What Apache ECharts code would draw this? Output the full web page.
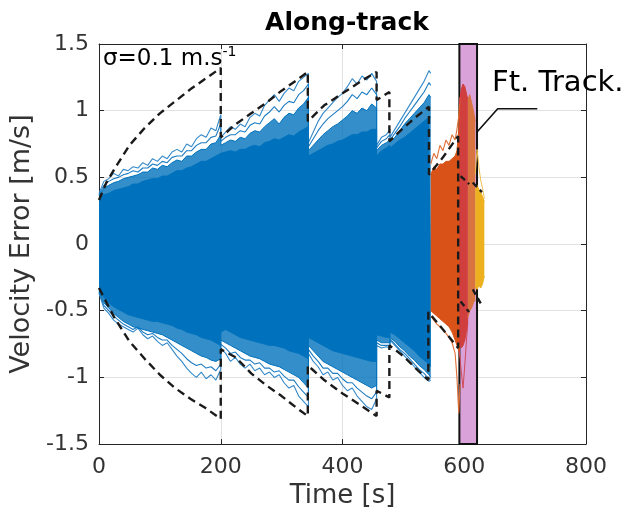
<!DOCTYPE html>
<html><head><meta charset="utf-8">
<script src="https://cdn.jsdelivr.net/npm/echarts@6/dist/echarts.min.js"></script>
<style>html,body{margin:0;padding:0;background:#fff}#c{width:623px;height:514px}</style>
</head><body><div id="c"></div>
<script>
const titleText = 'Along-track';
const xName = 'Time [s]';
const yName = 'Velocity Error [m/s]';
const sigmaLabel = 'σ=0.1 m.s';
const sigmaExp = '-1';
const boxLabel = 'Ft. Track.';

// blue Monte-Carlo band (repeated times = filter resets)
const blueT = [
  0,8,16,24,32,40,48,56,64,72,80,88,96,104,112,120,128,136,144,152,160,168,176,184,192,200,
  200,208,216,224,232,240,248,256,264,272,280,288,296,304,312,320,328,336,344,
  344,352,360,368,376,384,392,400,408,416,424,432,440,448,456,
  456,464,472,478,
  478,486,494,502,510,518,526,534,542,545];
const blueEdgeHi = [
  0.38,0.47,0.49,0.53,0.51,0.56,0.55,0.58,0.57,0.61,0.59,0.64,0.62,0.66,0.64,0.69,0.71,0.69,0.75,0.73,0.79,0.82,0.80,0.87,0.85,0.97,
  0.80,0.84,0.88,0.86,0.90,0.88,0.95,0.98,0.96,1.04,1.08,1.12,1.07,1.13,1.17,1.15,1.22,1.25,1.28,
  0.76,0.84,0.92,0.98,1.02,1.06,1.10,1.13,1.18,1.24,1.20,1.26,1.23,1.28,1.22,
  0.74,0.80,0.82,0.86,
  0.80,0.86,0.92,0.98,1.04,1.10,1.16,1.22,1.30,1.28];
const blueEdgeHi2 = [
  0.37,0.44,0.47,0.49,0.50,0.52,0.53,0.55,0.54,0.57,0.57,0.60,0.59,0.62,0.61,0.65,0.66,0.66,0.70,0.70,0.74,0.76,0.76,0.80,0.81,0.90,
  0.77,0.80,0.82,0.82,0.85,0.84,0.89,0.91,0.90,0.96,0.99,1.03,0.99,1.04,1.07,1.06,1.12,1.15,1.20,
  0.73,0.79,0.85,0.90,0.94,0.97,1.00,1.03,1.07,1.12,1.09,1.14,1.12,1.17,1.12,
  0.72,0.77,0.79,0.82,
  0.78,0.83,0.88,0.94,0.99,1.04,1.09,1.14,1.21,1.19];
const blueMidHi = [
  0.36,0.42,0.44,0.46,0.47,0.49,0.50,0.51,0.52,0.54,0.54,0.57,0.56,0.59,0.58,0.61,0.63,0.62,0.66,0.66,0.69,0.71,0.71,0.75,0.76,0.82,
  0.74,0.76,0.78,0.77,0.80,0.79,0.83,0.85,0.84,0.88,0.91,0.94,0.90,0.95,0.98,0.97,1.02,1.05,1.10,
  0.70,0.74,0.78,0.82,0.85,0.88,0.90,0.93,0.96,1.00,0.98,1.02,1.00,1.05,1.02,
  0.70,0.74,0.76,0.78,
  0.76,0.80,0.85,0.90,0.94,0.98,1.02,1.06,1.12,1.10];
const blueFillHi = [
  0.34,0.37,0.38,0.40,0.41,0.42,0.43,0.45,0.45,0.47,0.48,0.49,0.49,0.51,0.51,0.53,0.55,0.55,0.57,0.58,0.60,0.62,0.62,0.64,0.66,0.68,
  0.68,0.69,0.70,0.69,0.71,0.71,0.73,0.74,0.73,0.76,0.77,0.79,0.78,0.80,0.82,0.81,0.84,0.86,0.88,
  0.66,0.68,0.70,0.72,0.74,0.75,0.77,0.78,0.80,0.82,0.82,0.84,0.84,0.86,0.86,
  0.66,0.70,0.72,0.74,
  0.72,0.75,0.78,0.80,0.83,0.86,0.89,0.92,0.95,0.95];
const blueFillLo = [
  -0.33,-0.40,-0.44,-0.47,-0.49,-0.51,-0.53,-0.54,-0.55,-0.56,-0.57,-0.58,-0.58,-0.59,-0.60,-0.61,-0.63,-0.64,-0.66,-0.67,-0.68,-0.70,-0.71,-0.72,-0.74,-0.76,
  -0.66,-0.64,-0.66,-0.68,-0.70,-0.71,-0.72,-0.73,-0.74,-0.75,-0.76,-0.76,-0.77,-0.78,-0.80,-0.81,-0.82,-0.84,-0.86,
  -0.70,-0.72,-0.74,-0.76,-0.78,-0.80,-0.81,-0.82,-0.83,-0.84,-0.85,-0.86,-0.87,-0.88,-0.88,
  -0.68,-0.69,-0.70,-0.70,
  -0.66,-0.68,-0.71,-0.74,-0.77,-0.80,-0.84,-0.87,-0.90,-0.92];
const blueMidLo = [
  -0.35,-0.44,-0.48,-0.52,-0.55,-0.58,-0.60,-0.62,-0.63,-0.64,-0.65,-0.66,-0.67,-0.68,-0.70,-0.72,-0.74,-0.76,-0.78,-0.80,-0.82,-0.84,-0.85,-0.87,-0.88,-0.86,
  -0.72,-0.74,-0.76,-0.78,-0.80,-0.82,-0.84,-0.85,-0.86,-0.88,-0.90,-0.91,-0.92,-0.94,-0.96,-0.98,-1.00,-1.04,-1.08,
  -0.76,-0.80,-0.84,-0.88,-0.90,-0.92,-0.94,-0.96,-0.98,-1.00,-1.02,-1.04,-1.06,-1.08,-1.06,
  -0.72,-0.74,-0.74,-0.74,
  -0.70,-0.73,-0.77,-0.80,-0.84,-0.87,-0.91,-0.94,-0.98,-1.00];
const blueEdgeLo2 = [
  -0.36,-0.46,-0.50,-0.54,-0.57,-0.60,-0.62,-0.64,-0.62,-0.66,-0.68,-0.67,-0.70,-0.72,-0.72,-0.76,-0.79,-0.82,-0.86,-0.89,-0.91,-0.90,-0.93,-0.92,-0.95,-0.90,
  -0.75,-0.78,-0.82,-0.81,-0.85,-0.87,-0.87,-0.90,-0.89,-0.93,-0.93,-0.96,-0.95,-0.99,-1.02,-1.02,-1.07,-1.11,-1.15,
  -0.79,-0.84,-0.88,-0.93,-0.93,-0.97,-0.97,-1.01,-1.04,-1.04,-1.08,-1.11,-1.14,-1.16,-1.11,
  -0.74,-0.76,-0.76,-0.76,
  -0.71,-0.75,-0.79,-0.82,-0.86,-0.90,-0.94,-0.97,-1.01,-1.01];
const blueEdgeLo = [
  -0.37,-0.48,-0.52,-0.57,-0.60,-0.62,-0.64,-0.66,-0.63,-0.68,-0.71,-0.69,-0.73,-0.76,-0.74,-0.79,-0.84,-0.88,-0.93,-0.97,-1.00,-0.96,-1.01,-0.98,-1.02,-0.94,
  -0.78,-0.82,-0.88,-0.85,-0.90,-0.93,-0.90,-0.95,-0.93,-0.98,-0.96,-1.00,-0.98,-1.04,-1.08,-1.06,-1.14,-1.18,-1.22,
  -0.82,-0.88,-0.92,-0.98,-0.96,-1.02,-1.00,-1.06,-1.10,-1.08,-1.14,-1.18,-1.22,-1.24,-1.16,
  -0.76,-0.78,-0.77,-0.78,
  -0.72,-0.76,-0.80,-0.84,-0.88,-0.92,-0.96,-1.00,-1.03,-1.02];

// orange band
const orangeT      = [545,550,555,560,565,570,575,580,585,588,591,593];
const orangeEdgeHi = [0.60,0.68,0.64,0.74,0.70,0.78,0.74,0.82,0.78,0.86,0.96,1.10];
const orangeFillHi = [0.52,0.58,0.56,0.60,0.60,0.62,0.62,0.64,0.66,0.70,0.85,1.05];
const orangeFillLo = [-0.50,-0.52,-0.54,-0.56,-0.58,-0.60,-0.62,-0.66,-0.72,-0.76,-0.80,-0.85];
const orangeEdgeLo = [-0.54,-0.57,-0.60,-0.62,-0.64,-0.67,-0.70,-0.74,-0.82,-1.00,-1.27,-1.05];

// red band inside the feature-tracking window
const redT   = [592,595,598,601,604,606];
const redHi  = [1.05,1.16,1.20,1.18,1.12,1.08];
const redLo  = [-0.72,-0.78,-0.76,-0.72,-0.64,-0.55];
const redEdgeLo = [-0.80,-0.95,-1.08,-0.90,-0.70,-0.58];

// light-orange band (right part of window)
const lightT  = [606,609,612,615,618];
const lightHi = [1.08,1.12,1.06,1.00,0.92];
const lightLo = [-0.55,-0.50,-0.48,-0.44,-0.42];

// yellow band
const yellowT  = [618,621,624,627,630,633];
const yellowEdgeHi = [0.52,0.71,0.58,0.48,0.42,0.34];
const yellowHi = [0.40,0.44,0.41,0.39,0.40,0.32];
const yellowLo = [-0.32,-0.34,-0.31,-0.33,-0.30,-0.24];

// 3-sigma bounds (dashed)
const boundHiT = [0,12,25,50,75,100,125,150,175,200,200,225,250,275,300,325,343,343,370,400,430,456,456,477,477,500,520,542,542,565,590];
const boundHi  = [0.33,0.46,0.56,0.74,0.87,0.98,1.07,1.16,1.24,1.32,0.80,0.90,0.98,1.06,1.15,1.23,1.29,0.92,1.04,1.13,1.22,1.29,1.08,1.14,0.77,0.87,0.95,1.03,0.52,0.65,0.81];
const boundLoT = [0,25,50,75,100,125,150,175,200,200,225,250,275,300,325,343,343,370,400,430,456,456,477,477,500,520,541,541,565,590,590];
const boundLo  = [-0.33,-0.55,-0.73,-0.86,-0.98,-1.08,-1.16,-1.23,-1.31,-0.79,-0.85,-0.97,-1.06,-1.14,-1.23,-1.29,-0.91,-1.02,-1.12,-1.21,-1.29,-1.10,-1.15,-0.76,-0.84,-0.93,-1.02,-0.51,-0.64,-0.78,0.81];
const tailT  = [594,608,614,629];
const tailHi = [0.51,0.45,0.46,0.39];
const tailLo = [-0.43,-0.51,-0.34,-0.46];

// feature tracking window and its callout
const boxRange = [592, 621];
const calloutT = [621, 655, 720];
const calloutV = [0.84, 1.015, 1.015];

const xMin = 0, xMax = 800, xStep = 200;
const yMin = -1.5, yMax = 1.5, yStep = 0.5;

const FONT = 'DejaVu Sans';
const BLUE = '#0072BD', ORANGE = '#D95319', YELLOW = '#EDB120';
const zip = (t, v) => t.map((x, i) => [x, v[i]]);

function area(t, v, color, opacity, z) {
  return {type:'line', data: zip(t, v), showSymbol:false, symbol:'none', silent:true, z: z,
    lineStyle:{color: color, width: 1, opacity: Math.min(1, opacity + 0.2)},
    areaStyle:{color: color, opacity: opacity, origin: 'auto'}, animation:false};
}
function line(t, v, color, width, z, type) {
  return {type:'line', data: zip(t, v), showSymbol:false, symbol:'none', silent:true, z: z,
    lineStyle:{color: color, width: width, type: type || 'solid'}, animation:false};
}

const series = [];
series.push({type:'line', data: [], z: 1, silent:true, animation:false,
  markArea:{silent:true, itemStyle:{color:'#D9A3D9', opacity:1}, data:[[{xAxis: boxRange[0]}, {xAxis: boxRange[1]}]]}});
// blue
series.push(line(blueT, blueEdgeHi, '#3489c9', 1.1, 2));
series.push(line(blueT, blueEdgeLo, '#3489c9', 1.1, 2));
series.push(line(blueT, blueEdgeHi2, '#1c7cc2', 1.1, 2));
series.push(line(blueT, blueEdgeLo2, '#1c7cc2', 1.1, 2));
series.push(area(blueT, blueMidHi, BLUE, 0.8, 2));
series.push(area(blueT, blueMidLo, BLUE, 0.8, 2));
series.push(area(blueT, blueFillHi, BLUE, 1, 2));
series.push(area(blueT, blueFillLo, BLUE, 1, 2));
// orange
series.push(line(orangeT, orangeEdgeHi, '#E0703A', 1.1, 2));
series.push(line(orangeT, orangeEdgeLo, '#E0703A', 1.1, 2));
series.push(area(orangeT, orangeFillHi, ORANGE, 1, 2));
series.push(area(orangeT, orangeFillLo, ORANGE, 1, 2));
// red & light orange inside window
series.push(line(redT, redEdgeLo, '#D04A5A', 1, 2));
series.push(area(redT, redHi, '#D03E3E', 1, 2));
series.push(area(redT, redLo, '#D03E3E', 1, 2));
series.push(area(lightT, lightHi, '#D9733F', 1, 2));
series.push(area(lightT, lightLo, '#D9733F', 1, 2));
// yellow
series.push(line(yellowT, yellowEdgeHi, '#F0C050', 1, 2));
series.push(area(yellowT, yellowHi, YELLOW, 1, 2));
series.push(area(yellowT, yellowLo, YELLOW, 1, 2));
// dashed bounds
series.push(line(boundHiT, boundHi, '#1a1a1a', 2.4, 3, [8,5]));
series.push(line(boundLoT, boundLo, '#1a1a1a', 2.4, 3, [8,5]));
for (let i = 0; i < tailT.length; i += 2) {
  series.push(line(tailT.slice(i, i+2), tailHi.slice(i, i+2), '#1a1a1a', 2.4, 3, [6,4]));
  series.push(line(tailT.slice(i, i+2), tailLo.slice(i, i+2), '#1a1a1a', 2.4, 3, [6,4]));
}
series.push({type:'line', data: [], z: 4, silent:true, animation:false,
  markArea:{silent:true, itemStyle:{color:'rgba(0,0,0,0)', borderColor:'#111', borderWidth:2}, data:[[{xAxis: boxRange[0]}, {xAxis: boxRange[1]}]]}});
series.push(line(calloutT, calloutV, '#111', 1.6, 5));

const axisCommon = {
  axisLine:{show:true, onZero:false, lineStyle:{color:'#262626', width:1}},
  axisTick:{show:true, inside:true, length:5, lineStyle:{color:'#262626'}},
};

const chart = echarts.init(document.getElementById('c'), null, {renderer:'canvas'});
chart.setOption({
  animation:false,
  backgroundColor:'#fff',
  title:{text:titleText, left:342, textAlign:'center', top:6,
    textStyle:{fontFamily:FONT, fontSize:25, fontWeight:'bold', color:'#000'}},
  grid:{left:99, right:37, top:44, bottom:68, containLabel:false},
  xAxis:[
    Object.assign({type:'value', min:xMin, max:xMax, interval:xStep, position:'bottom',
      name:xName, nameLocation:'middle', nameGap:36,
      nameTextStyle:{fontFamily:FONT, fontSize:26, color:'#333'},
      axisLabel:{fontFamily:FONT, fontSize:22, color:'#333', margin:12},
      splitLine:{show:true, lineStyle:{color:'#e2e2e2', width:1}}}, axisCommon),
    Object.assign({type:'value', min:xMin, max:xMax, interval:xStep, position:'top',
      axisLabel:{show:false}, splitLine:{show:false}}, axisCommon)
  ],
  yAxis:[
    Object.assign({type:'value', min:yMin, max:yMax, interval:yStep, position:'left',
      name:yName, nameLocation:'middle', nameGap:55,
      nameTextStyle:{fontFamily:FONT, fontSize:27, color:'#333'},
      axisLabel:{fontFamily:FONT, fontSize:22, color:'#333', margin:10},
      splitLine:{show:true, lineStyle:{color:'#e2e2e2', width:1}}}, axisCommon),
    Object.assign({type:'value', min:yMin, max:yMax, interval:yStep, position:'right',
      axisLabel:{show:false}, splitLine:{show:false}}, axisCommon)
  ],
  graphic:[
    {type:'text', left:103, top:45, z:10, silent:true,
      style:{rich:{a:{fontFamily:FONT, fontSize:23, fill:'#000', verticalAlign:'bottom', lineHeight:26},
                   b:{fontFamily:FONT, fontSize:14, fill:'#000', verticalAlign:'top'}},
             text:'{a|' + sigmaLabel + '}{b|' + sigmaExp + '}'}},
    {type:'text', left:492, top:69, z:10, silent:true,
      style:{text:boxLabel, fontFamily:FONT, fontSize:29, fill:'#000'}}
  ],
  series: series
});
</script>
</body></html>
